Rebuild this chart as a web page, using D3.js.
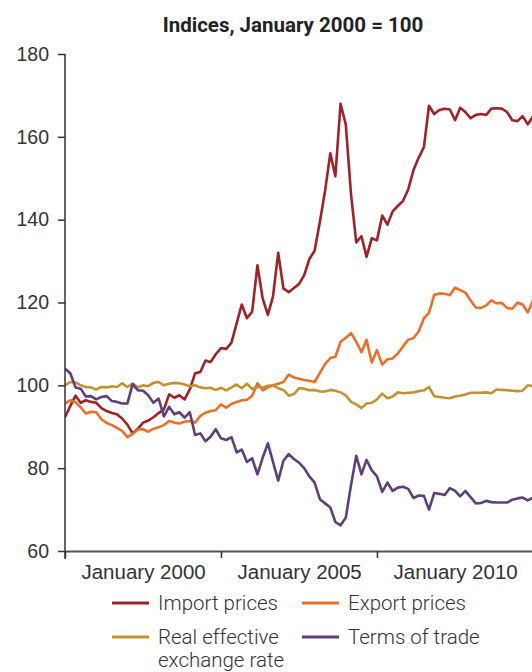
<!DOCTYPE html>
<html>
<head>
<meta charset="utf-8">
<script src="https://cdn.jsdelivr.net/npm/d3@7"></script>
<style>
	body { margin: 0; background: #fff; }
	svg { display: block; font-family: Roboto, 'Noto Sans', sans-serif; }
	.tick text { fill: #333; font-weight: 300; }
</style>
</head>
<body>
<svg width="532" height="672"></svg>
<script>
// observations every second month, starting July 1997
let start = new Date(1997, 6, 1)

let importPrices = [
	92.3, 95, 97.5, 95.8, 96.4, 96, 95.8, 94.5, 93.8, 93.3,
	93, 92, 90.5, 88.4, 89.5, 91, 91.5, 92.3, 93.3, 94.2,
	97.8, 97, 97.6, 96.6, 99, 102.9, 103.2, 106, 105.6, 107.5,
	109, 108.8, 110.3, 115, 119.5, 116.2, 117.8, 129, 121, 117,
	121.5, 132, 123.4, 122.5, 123.5, 124.5, 126.6, 130.5, 132.5, 139.5,
	147, 156, 150.5, 168, 163, 146, 134.5, 136, 131, 135.5,
	135, 141, 138.8, 142, 143.3, 144.5, 147.3, 152, 155, 157.5,
	167.5, 165.5, 166.5, 166.8, 166.6, 164, 167, 166, 164.5, 165.3,
	165.5, 165.3, 166.8, 166.9, 166.8, 166, 164, 163.8, 165, 163,
	165
]

let exportPrices = [
	95.6, 96.4, 95.9, 94.7, 93.2, 93.6, 93.5, 91.8, 90.9, 90.4,
	89.7, 89, 87.5, 88.3, 89.3, 89.4, 88.8, 89.5, 89.9, 90.4,
	91.4, 91, 90.8, 91.2, 91.4, 91, 92.6, 93.4, 93.8, 94,
	95.4, 94.6, 95.5, 96, 96.4, 96.5, 97.5, 100.5, 98.8, 99.5,
	100, 100.4, 100.8, 102.6, 101.9, 101.6, 101.3, 101.1, 100.8, 103,
	105.2, 106.6, 106.9, 110.5, 111.5, 112.6, 110.5, 108, 111, 105.5,
	108.5, 105, 106.3, 106.5, 107.7, 109.4, 111, 111.4, 113, 116.2,
	117.5, 121.8, 122.2, 122.1, 121.8, 123.6, 123, 122.4, 120.5, 118.8,
	118.7, 119.3, 120.5, 119.8, 119.9, 118.7, 118.5, 120, 119.5, 117.6,
	120.5
]

let reer = [
	100, 100.8, 100.7, 100, 99.6, 99.5, 99, 99.6, 99.5, 99.8,
	99.6, 100.5, 99.6, 100.4, 99.5, 100, 99.8, 100.6, 100.8, 100,
	100.4, 100.6, 100.5, 100.2, 99.8, 100, 99.5, 99.3, 99.4, 98.9,
	99.4, 98.8, 99.5, 100.2, 99.3, 100.4, 99.1, 99.6, 99.5, 99.9,
	100, 99.3, 98.9, 97.5, 97.9, 99.3, 99.2, 98.8, 98.9, 98.5,
	98.5, 98.9, 98.7, 98.3, 97.6, 96, 95.4, 94.5, 95.6, 95.8,
	96.6, 98, 96.9, 97.3, 98.3, 98.1, 98.2, 98.3, 98.6, 98.8,
	99.6, 97.4, 97.2, 97, 96.9, 97.3, 97.5, 97.8, 98.2, 98.2,
	98.2, 98.3, 98.1, 99, 98.9, 98.8, 98.7, 98.6, 98.7, 100,
	99.8
]

let termsOfTrade = [
	104, 102.9, 99.5, 99.2, 97.3, 97.4, 96.6, 97.2, 97.4, 96.2,
	96, 95.6, 95.6, 100.3, 98.8, 98.7, 97.6, 95.8, 96.8, 92.5,
	94.8, 93, 93.5, 92.2, 93.5, 88, 88.4, 86.5, 87.6, 89.4,
	87.2, 86.8, 87.5, 83.8, 84.5, 81.5, 82.4, 78.5, 82.5, 86,
	81.5, 77, 81.8, 83.4, 82.2, 81.3, 80, 78, 76.5, 72.5,
	71.5, 70.5, 67, 66.2, 68, 76, 83, 78.5, 82, 79.5,
	78, 74.3, 76.5, 74.5, 75.3, 75.5, 75, 72.8, 73.4, 73.3,
	70, 74, 73.8, 73.5, 75.2, 74.5, 73.2, 74.5, 73, 71.5,
	71.6, 72.1, 71.8, 71.7, 71.7, 71.7, 72.4, 72.7, 72.9, 72.2,
	72.9
]

let seriesNames = ['Import prices', 'Export prices', 'Real effective exchange rate', 'Terms of trade']
let seriesValues = [importPrices, exportPrices, reer, termsOfTrade]
let colors = ['#9e2329', '#e8702b', '#c39230', '#5d3f7b']

let yTicks = [60, 80, 100, 120, 140, 160, 180]
let xTickDates = [new Date(1997, 6, 1), new Date(2002, 6, 1), new Date(2007, 6, 1), new Date(2012, 6, 1)]
let xLabelDates = [new Date(2000, 0, 1), new Date(2005, 0, 1), new Date(2010, 0, 1)]

let svg = d3.select('svg')

let scX = d3.scaleTime()
	.domain([new Date(1997, 6, 1), new Date(2012, 6, 1)])
	.range([65, 533])

let scY = d3.scaleLinear()
	.domain([60, 180])
	.range([551, 54])

let dateAt = i => d3.timeMonth.offset(start, i * 2)

// title
svg.append('text')
	.attr('x', 293).attr('y', 32)
	.attr('text-anchor', 'middle')
	.attr('font-size', 20.5).attr('font-weight', 700)
	.attr('fill', '#222')
	.text('Indices, January 2000 = 100')

// clip for the lines
svg.append('clipPath').attr('id', 'plot')
	.append('rect').attr('x', 65).attr('y', 40).attr('width', 467).attr('height', 511)

let line = d3.line()
	.x((d, i) => scX(dateAt(i)))
	.y(d => scY(d))

svg.append('g')
	.attr('clip-path', 'url(#plot)')
	.selectAll('path')
	.data(seriesValues).enter()
	.append('path')
	.attr('fill', 'none')
	.attr('stroke', (d, i) => colors[i])
	.attr('stroke-width', 2.6)
	.attr('stroke-linejoin', 'round')
	.attr('d', line)

// y axis
let yAxis = svg.append('g')
	.attr('transform', 'translate(65,0)')
	.call(d3.axisLeft(scY).tickValues(yTicks).tickSize(7).tickSizeOuter(0).tickPadding(9))
yAxis.select('.domain').remove()
yAxis.selectAll('.tick line').attr('stroke', '#333').attr('stroke-width', 1.5)
yAxis.selectAll('.tick text').attr('font-size', 19.5)

svg.append('line')
	.attr('x1', 65).attr('x2', 65)
	.attr('y1', scY(180)).attr('y2', 559)
	.attr('stroke', '#333').attr('stroke-width', 1.5)

// x axis: ticks and labels sit apart
let xAxis = svg.append('g')
	.attr('transform', 'translate(0,551)')
	.call(d3.axisBottom(scX).tickValues(xTickDates).tickSize(7).tickSizeOuter(0).tickFormat(''))
xAxis.select('.domain').attr('stroke', '#555').attr('stroke-width', 1.8)
xAxis.selectAll('.tick line').attr('stroke', '#333').attr('stroke-width', 1.5)

let xLabels = svg.append('g')
	.attr('transform', 'translate(0,551)')
	.call(d3.axisBottom(scX).tickValues(xLabelDates).tickSize(0).tickPadding(13).tickFormat(d3.timeFormat('January %Y')))
xLabels.select('.domain').remove()
xLabels.selectAll('.tick text').attr('font-size', 20.5)

// legend
let legend = svg.append('g')
	.selectAll('g')
	.data(seriesNames).enter()
	.append('g')
	.attr('transform', (d, i) => `translate(${i % 2 ? 302 : 112},${i < 2 ? 603 : 637})`)

legend.append('line')
	.attr('x1', 0).attr('x2', 37)
	.attr('stroke', (d, i) => colors[i])
	.attr('stroke-width', 3)

legend.append('text')
	.attr('x', 46).attr('y', 6.5)
	.attr('font-size', 20.5).attr('font-weight', 300)
	.attr('fill', '#333')
	.each(function(d) {
		let t = d3.select(this)
		let parts = d === 'Real effective exchange rate' ? ['Real effective', 'exchange rate'] : [d]
		parts.forEach((p, j) => t.append('tspan').attr('x', 46).attr('dy', j ? 23.5 : 0).text(p))
	})
</script>
</body>
</html>
